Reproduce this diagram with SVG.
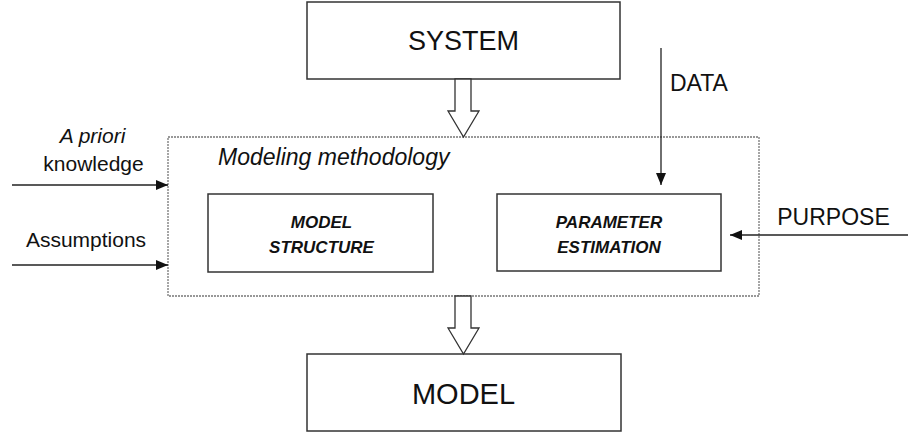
<svg xmlns="http://www.w3.org/2000/svg" width="908" height="436" viewBox="0 0 908 436">
<style>
.box{fill:#fff;stroke:#333;stroke-width:1.5}
.frame{fill:none;stroke:#777;stroke-width:1.3;stroke-dasharray:2,1}
.hollow{fill:#fff;stroke:#333;stroke-width:1.3;stroke-linejoin:miter}
.line{stroke:#222;stroke-width:1.3;fill:none}
text{font-family:"Liberation Sans",Arial,sans-serif;fill:#111}
.big{text-anchor:middle}
.inner{font-weight:bold;font-style:italic;font-size:17px;text-anchor:middle}
</style>
<defs>
<marker id="ah" markerWidth="12" markerHeight="10" refX="12" refY="5" orient="auto" markerUnits="userSpaceOnUse">
<path d="M0,0 L12,5 L0,10 Z" fill="#111"/>
</marker>
</defs>
<g id="system">
<rect class="box" x="307" y="2" width="313" height="77"/>
<text class="big" x="463.5" y="50" font-size="27">SYSTEM</text>
</g>
<g id="methodology">
<rect class="frame" x="168" y="137" width="591" height="159"/>
<text x="218" y="165" font-size="23" font-style="italic">Modeling methodology</text>
</g>
<g id="model-structure">
<rect class="box" x="208" y="194" width="225" height="78"/>
<text class="inner" x="321.5" y="228">MODEL</text>
<text class="inner" x="321.5" y="253">STRUCTURE</text>
</g>
<g id="parameter-estimation">
<rect class="box" x="497" y="194" width="224" height="77"/>
<text class="inner" x="609" y="228">PARAMETER</text>
<text class="inner" x="609" y="253">ESTIMATION</text>
</g>
<g id="model">
<rect class="box" x="307" y="354" width="314" height="77"/>
<text class="big" x="463.5" y="404" font-size="29">MODEL</text>
</g>
<g id="labels">
<text class="big" x="92.5" y="143" font-size="21" font-style="italic">A priori</text>
<text class="big" x="93.5" y="171" font-size="21">knowledge</text>
<text class="big" x="86" y="247" font-size="21">Assumptions</text>
<text x="670" y="91" font-size="23">DATA</text>
<text class="big" x="833.5" y="225" font-size="23">PURPOSE</text>
</g>
<g id="connectors">
<path class="hollow" d="M455,79 L471,79 L471,111 L479,111 L463.5,137 L448,111 L455,111 Z"/>
<path class="hollow" d="M455,296 L471,296 L471,328 L479,328 L463.5,354 L448,328 L455,328 Z"/>
<line class="line" x1="12" y1="185" x2="168" y2="185" marker-end="url(#ah)"/>
<line class="line" x1="12" y1="265" x2="168" y2="265" marker-end="url(#ah)"/>
<line class="line" x1="661" y1="48" x2="661" y2="185" marker-end="url(#ah)"/>
<line class="line" x1="908" y1="235" x2="730" y2="235" marker-end="url(#ah)"/>
</g>
</svg>
